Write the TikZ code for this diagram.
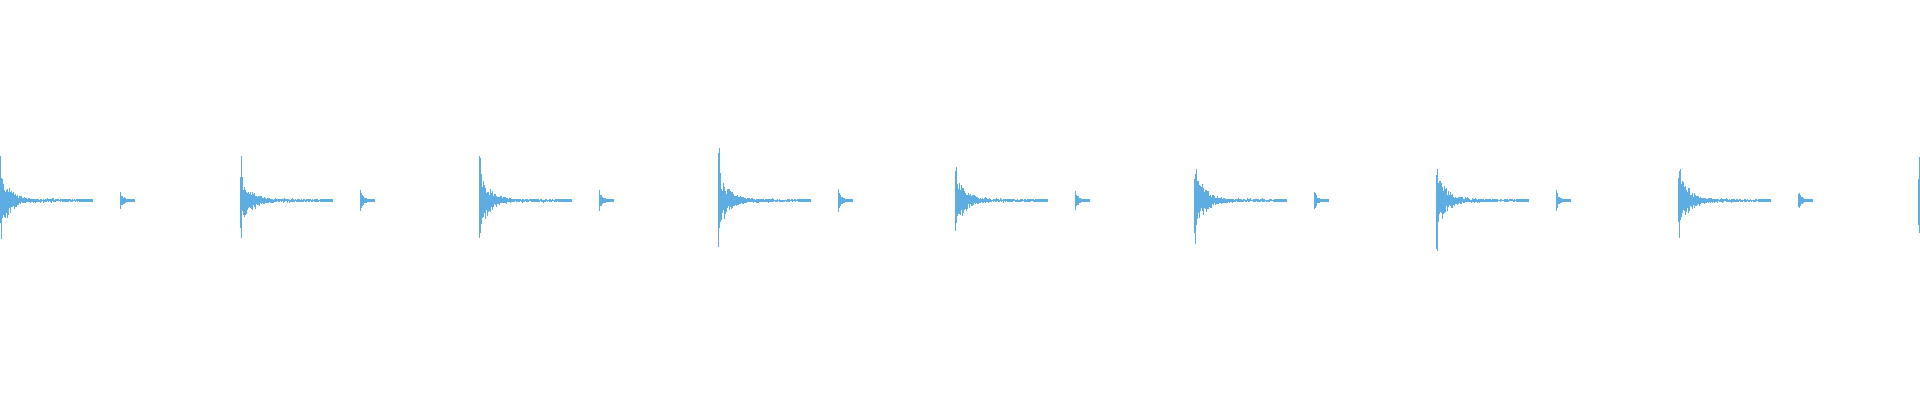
\documentclass[tikz,border=0pt]{standalone}
\definecolor{wave}{RGB}{93,173,226}
\tikzset{wl/.style={draw=wave,line width=1.05pt}}
\begin{document}
\begin{tikzpicture}[x=1pt,y=1pt]
\useasboundingbox (0,0) rectangle (1920,400);
\pgfmathsetseed{7}
\foreach \b/\s in {0/1,240/0.97,479/1.05,718/1.08,955/0.95,1194/1.1,1436/1.05,1678/1.1,1918/1.0}{
  \foreach \i in {0,...,92}{
    \pgfmathsetmacro{\e}{\s*(\i<2 ? 48 : 34*exp(-(\i)/9))}
    \pgfmathsetmacro{\a}{\e*(0.35+0.65*rnd)+ (\i<80 ? 1.5*rnd : 0.6)}
    \pgfmathsetmacro{\bb}{\e*(0.35+0.65*rnd)+ (\i<80 ? 1.5*rnd : 0.6)}
    \path[wl] (\b+\i+0.5,200+\a) -- (\b+\i+0.5,199-\bb);
  }
  \foreach \i in {0,...,14}{
    \pgfmathsetmacro{\a}{10*exp(-\i/2.5)*(0.5+0.5*rnd)+0.8}
    \path[wl] (\b+120+\i+0.5,200+\a) -- (\b+120+\i+0.5,199-\a);
  }
}
\end{tikzpicture}
\end{document}
